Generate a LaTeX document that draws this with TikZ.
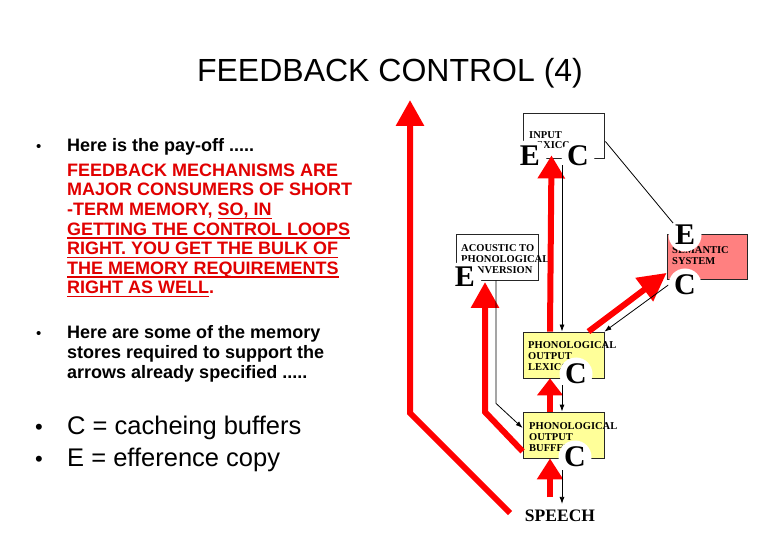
\documentclass[tikz,border=0pt]{standalone}
\usepackage{fontspec}
\setmainfont{Liberation Sans}
\newfontfamily\serifb{Liberation Serif}
\usetikzlibrary{arrows.meta,calc}
\definecolor{txtred}{RGB}{225,0,0}
\definecolor{arrred}{RGB}{255,0,0}
\definecolor{boxyellow}{RGB}{255,255,153}
\definecolor{boxpink}{RGB}{255,128,128}
\newcommand\myul[1]{\setbox0\hbox{#1}\rlap{\rule[-3.4pt]{\wd0}{1.8pt}}\box0}
\pgfdeclarelayer{back}\pgfdeclarelayer{front}\pgfsetlayers{back,main,front}
\begin{document}
\begin{tikzpicture}[x=1pt,y=-1pt,
  txt/.style={anchor=base west,inner sep=0pt},
  bodyb/.style={txt,font=\bfseries\fontsize{18}{20}\selectfont},
  redline/.style={bodyb,text=txtred},
  bul/.style={txt,font=\fontsize{15}{18}\selectfont},
  bigbul/.style={txt,font=\fontsize{22}{26}\selectfont},
  big/.style={txt,font=\fontsize{25.5}{30}\selectfont},
  box/.style={draw=black!85,line width=0.8pt,inner sep=0pt},
  lbl/.style={anchor=base west,inner sep=0pt,font=\serifb\bfseries\fontsize{10.5}{11}\selectfont},
  letter/.style={circle,fill=white,inner sep=0pt,minimum size=33pt,font=\serifb\bfseries\fontsize{30}{30}\selectfont},
  fat/.style={draw=arrred,line width=6pt,-{Triangle[width=27pt,length=26pt]}},
  thin/.style={draw=black,line width=0.8pt,-{Latex[length=7pt,width=5pt]}},
  thinplain/.style={draw=black,line width=0.8pt}
]
\useasboundingbox (0,0) rectangle (780,540);

% title
\node[anchor=base,inner sep=0pt,font=\fontsize{32}{36}\selectfont] (title) at (390,81.5) {FEEDBACK CONTROL (4)};

% first bullet block
\node[bul] (b1) at (36,152) {•};
\node[bodyb] (t1) at (67,152) {Here is the pay-off .....};
\node[redline] (t2) at (67,176.5) {FEEDBACK MECHANISMS ARE};
\node[redline] (t3) at (67,196) {MAJOR CONSUMERS OF SHORT};
\node[redline] (t4) at (67,216) {-TERM MEMORY, \myul{SO, IN}};
\node[redline] (t5) at (67,235.5) {\myul{GETTING THE CONTROL LOOPS}};
\node[redline] (t6) at (67,255) {\myul{RIGHT. YOU GET THE BULK OF}};
\node[redline] (t7) at (67,274.5) {\myul{THE MEMORY REQUIREMENTS}};
\node[redline] (t8) at (67,294) {\myul{RIGHT AS WELL}.};

% second bullet block
\node[bul] (b2) at (36,339) {•};
\node[bodyb] (u1) at (67,339) {Here are some of the memory};
\node[bodyb] (u2) at (67,358.5) {stores required to support the};
\node[bodyb] (u3) at (67,378) {arrows already specified .....};

% legend
\node[bigbul] (b3) at (35,434) {•};
\node[big] (v1) at (67,434) {C = cacheing buffers};
\node[bigbul] (b4) at (35,466) {•};
\node[big] (v2) at (67,466) {E = efference copy};

% boxes
\begin{pgfonlayer}{back}
\fill[white] (0,0) rectangle (780,540);
\node[box,fill=white,minimum width=81pt,minimum height=45pt] (inbox) at (563.5,135.5) {};
\node[box,fill=white,minimum width=82pt,minimum height=46pt] (acbox) at (497,257) {};
\node[box,fill=boxpink,minimum width=80pt,minimum height=45pt] (sembox) at (707,256.5) {};
\node[box,fill=boxyellow,minimum width=81pt,minimum height=46pt] (lexbox) at (563.5,355) {};
\node[box,fill=boxyellow,minimum width=81pt,minimum height=46pt] (bufbox) at (563.5,435) {};
\node[lbl] (in1) at (529,138.5) {INPUT};
\node[lbl] (in2) at (529,148.5) {LEXICON};
\node[lbl] (ac1) at (461,252) {ACOUSTIC TO};
\node[lbl] (ac2) at (461,263) {PHONOLOGICAL};
\node[lbl] (ac3) at (461,274) {CONVERSION};
\node[lbl] (se1) at (672,253.5) {SEMANTIC};
\node[lbl] (se2) at (672,264.5) {SYSTEM};
\node[lbl] (lx1) at (528,348.5) {PHONOLOGICAL};
\node[lbl] (lx2) at (528,359.5) {OUTPUT};
\node[lbl] (lx3) at (528,370.5) {LEXICON};
\node[lbl] (bf1) at (529,429) {PHONOLOGICAL};
\node[lbl] (bf2) at (529,440) {OUTPUT};
\node[lbl] (bf3) at (529,451) {BUFFER};
\end{pgfonlayer}
\node[font=\serifb\bfseries\fontsize{17.5}{18}\selectfont,inner sep=0pt] (speech) at (560,516) {SPEECH};

% E / C discs
\begin{pgfonlayer}{front}
\node[letter] (IE) at (530,156) {E};
\node[letter] (IC) at (578,156) {C};
\node[letter] (AE) at (465,277) {E};
\node[letter] (SE) at (685,235) {E};
\node[letter] (SC) at (685,285) {C};
\node[letter] (LC) at (576,374) {C};
\node[letter] (BC) at (575,457) {C};
\end{pgfonlayer}

% free points of the long loops
\coordinate (l1) at (510,513);
\coordinate (l2) at (410,413);
\coordinate (l3) at (410,100);
\coordinate (k2) at (485,412);
\coordinate (k3) at (485,282);

% red feedback arrows
\draw[fat] (l1) -- (l2) -- (l3);
\draw[fat] ($(bufbox.south west)+(0,-7)$) -- (k2) -- (k3);
\draw[fat,-{Triangle[width=26pt,length=23pt]}] ($(lexbox.north)+(-13.5,0)$) -- ($(inbox.south)+(-12,-3)$);
\draw[fat,-{Triangle[width=28pt,length=28pt]}] ($(lexbox.north east)+(-16,0)$) -- ($(sembox.south west)+(0,-6.5)$);
\draw[fat,-{Triangle[width=25pt,length=21pt]}] ($(bufbox.south)+(-13.5,39)$) -- ($(bufbox.south)+(-13.5,0)$);
\draw[fat,-{Triangle[width=25pt,length=17pt]}] ($(bufbox.north)+(-13.5,0)$) -- ($(lexbox.south)+(-13.5,0)$);

% thin forward arrows
\draw[thin] ($(inbox.south)+(-1.5,7)$) -- ($(lexbox.north)+(-1.5,0)$);
\draw[thinplain] ($(inbox.east)+(1,6)$) -- (SE.north west);
\draw[thin] (SC.west) -- (lexbox.north east);
\draw[thin] ($(lexbox.south)+(-1.5,7)$) -- ($(bufbox.north)+(-1.5,0)$);
\draw[thin] ($(acbox.south)+(-1,0)$) -- ($(acbox.south)+(-1,123)$) -- ($(bufbox.west)+(0,-7)$);
\draw[thin] ($(bufbox.south)+(-1.5,12)$) -- ($(speech.north)+(2,-6)$);
\end{tikzpicture}
\end{document}
